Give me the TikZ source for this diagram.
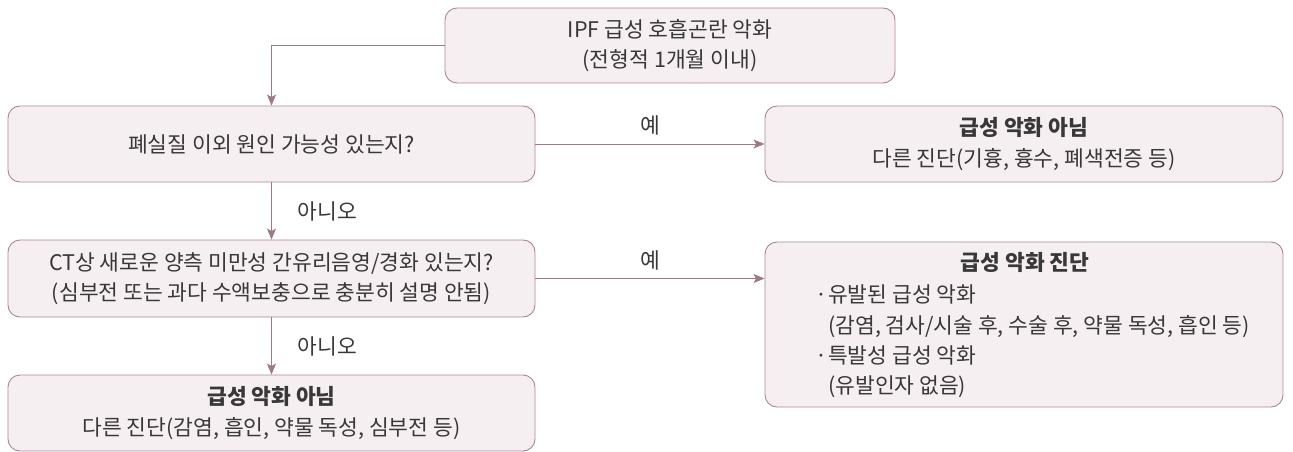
\documentclass[tikz,border=0pt]{standalone}
\usepackage{fontspec}
\setmainfont{Noto Sans CJK KR}
\usetikzlibrary{arrows.meta}
\definecolor{boxline}{HTML}{AD8696}
\definecolor{boxfill}{HTML}{F6EFF2}
\definecolor{arrowc}{HTML}{A07888}
\definecolor{txt}{HTML}{383838}
\begin{document}
\begin{tikzpicture}[x=1pt,y=-1pt,
  box/.style={draw=boxline,fill=boxfill,line width=0.9pt,rounded corners=12pt,
    inner sep=0pt,align=center,text=txt,font=\fontsize{21.5}{30.5}\selectfont},
  conn/.style={draw=arrowc,line width=0.9pt,-{Stealth[length=11pt,width=9pt,inset=2.5pt]}},
  lbl/.style={text=txt,font=\fontsize{21.5}{30.5}\selectfont,inner sep=0pt},
  line/.style={lbl,anchor=west,text height=16pt,text depth=5pt}]
\useasboundingbox (0,0) rectangle (1293,452);
\node[box,minimum width=450pt,minimum height=75pt] (top) at (670,45.5)
  {IPF 급성 호흡곤란 악화\\(전형적 1개월 이내)};
\node[box,minimum width=527pt,minimum height=76pt] (q1) at (271.5,144)
  {폐실질 이외 원인 가능성 있는지?};
\node[box,minimum width=518pt,minimum height=76pt] (r1) at (1024,144)
  {{\bfseries 급성 악화 아님}\\다른 진단(기흉, 흉수, 폐색전증 등)};
\node[box,minimum width=527pt,minimum height=77pt] (q2) at (271.5,278.5)
  {CT상 새로운 양측 미만성 간유리음영/경화 있는지?\\(심부전 또는 과다 수액보충으로 충분히 설명 안됨)};
\node[box,minimum width=518pt,minimum height=165pt] (r2) at (1024,324.5) {};
\node[lbl,font=\fontsize{21.5}{30.5}\selectfont\bfseries,text height=16pt,text depth=5pt] (r2t) at (1025,265) {급성 악화 진단};
\node[line] (b1) at (815,297) {\makebox[13pt][l]{·}유발된 급성 악화};
\node[line] (b1d) at (828,327.5) {(감염, 검사/시술 후, 수술 후, 약물 독성, 흡인 등)};
\node[line] (b2) at (815,358) {\makebox[13pt][l]{·}특발성 급성 악화};
\node[line] (b2d) at (828,387.5) {(유발인자 없음)};
\node[box,minimum width=527pt,minimum height=76pt] (q3) at (271.5,413)
  {{\bfseries 급성 악화 아님}\\다른 진단(감염, 흡인, 약물 독성, 심부전 등)};
\draw[conn] (top.west) -| (q1.north);
\draw[conn] (q1.east) -- node[lbl,above=8pt] (y1) {예} (r1.west);
\draw[conn] (q1.south) -- node[lbl,right=26pt] (n1) {아니오} (q2.north);
\draw[conn] (q2.east) -- node[lbl,above=8pt] (y2) {예} (q2.east -| r2.west);
\draw[conn] (q2.south) -- node[lbl,right=26pt] (n2) {아니오} (q3.north);
\end{tikzpicture}
\end{document}
